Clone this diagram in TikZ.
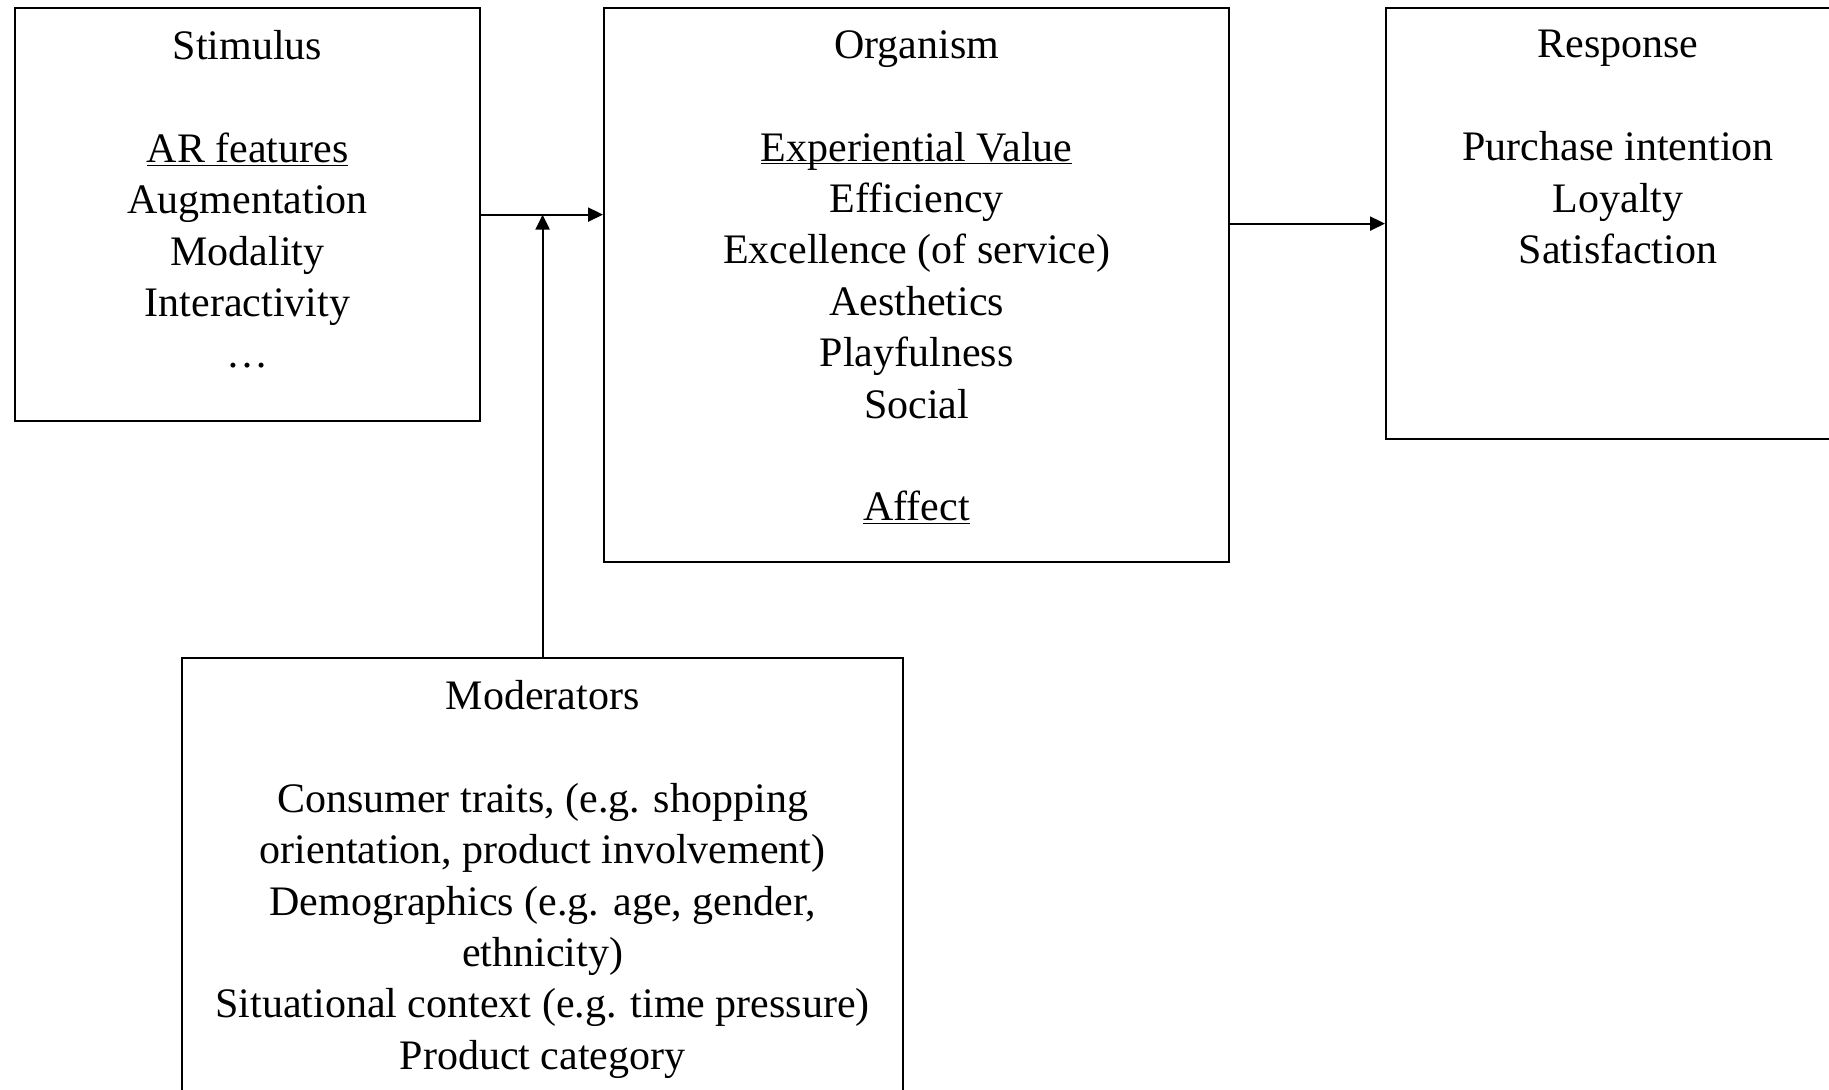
\documentclass[tikz,border=0pt]{standalone}
\usepackage{fontspec}
\setmainfont{Liberation Serif}
\usetikzlibrary{positioning,arrows.meta}
\newcommand{\undl}[1]{$\underline{\smash{\hbox{#1}}}$}

\begin{document}
\begin{tikzpicture}[x=0.5pt,y=-0.5pt,
  box/.style={draw, line width=1.1pt, inner sep=0pt, anchor=north west},
  txt/.style={align=center, inner sep=0pt, font=\fontsize{21}{25.7}\selectfont},
  arr/.style={-{Triangle[length=7.5pt,width=7pt]}, line width=1.1pt}]
\useasboundingbox (0,0) rectangle (1829,1089);
\clip (0,0) rectangle (1829,1089);
\node[box, minimum width=232.5pt, minimum height=206.5pt] (stim) at (14,7) {};
\node[box, minimum width=312.5pt, minimum height=277pt] (org) at (603,7) {};
\node[box, minimum width=232pt, minimum height=215.5pt] (resp) at (1385,7) {};
\node[box, minimum width=360.5pt, minimum height=235pt] (mod) at (181,657) {};
\node[txt, below=11.5pt of stim.north] (stimtxt) {Stimulus\\[25.7pt]\undl{AR features}\\Augmentation\\Modality\\Interactivity\\\dots};
\node[txt, below=11.5pt of org.north] (orgtxt) {Organism\\[25.7pt]\undl{Experiential Value}\\Efficiency\\Excellence (of service)\\Aesthetics\\Playfulness\\Social\\[25.7pt]\undl{Affect}};
\node[txt, below=11.5pt of resp.north] (resptxt) {Response\\[25.7pt]Purchase intention\\Loyalty\\Satisfaction};
\node[txt, below=11.5pt of mod.north] (modtxt) {Moderators\\[25.7pt]Consumer traits, (e.g. shopping\\orientation, product involvement)\\Demographics (e.g. age, gender,\\ethnicity)\\Situational context (e.g. time pressure)\\Product category};
\draw[arr] (stim.east) -- (org.west |- stim.east);
\draw[arr] (org.east |- resp.west) -- (resp.west);
\draw[arr] (mod.north) -- (mod.north |- stim.east);
\end{tikzpicture}
\end{document}
